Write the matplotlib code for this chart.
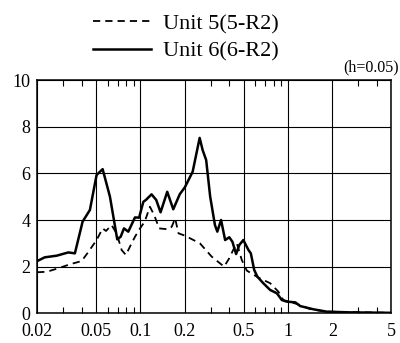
import numpy as np
import matplotlib
matplotlib.use('Agg')
import matplotlib.pyplot as plt
from matplotlib.ticker import FixedLocator, NullFormatter

plt.rcParams['font.family'] = ['Liberation Serif', 'DejaVu Serif']

# Unit 6 (6-R2), solid
period6 = [0.02, 0.0225, 0.0271, 0.0325, 0.036, 0.0406, 0.0455, 0.0505, 0.0555,
           0.0622, 0.0697, 0.0735, 0.0774, 0.0828, 0.0919, 0.098, 0.1047, 0.109,
           0.119, 0.128, 0.137, 0.152, 0.167, 0.185, 0.2, 0.226, 0.252, 0.264,
           0.279, 0.297, 0.32, 0.332, 0.352, 0.375, 0.4, 0.42, 0.445, 0.468,
           0.498, 0.54, 0.56, 0.59, 0.62, 0.68, 0.757, 0.84, 0.908, 0.98, 1.12,
           1.21, 1.49, 1.83, 2.64, 5.0]
sa6 = [2.24, 2.4, 2.47, 2.61, 2.57, 3.93, 4.43, 5.93, 6.18,
       5.0, 3.17, 3.28, 3.64, 3.5, 4.11, 4.1, 4.78, 4.86,
       5.1, 4.86, 4.33, 5.21, 4.46, 5.11, 5.4, 6.07, 7.52, 7.0,
       6.57, 5.0, 3.78, 3.5, 4.0, 3.14, 3.26, 3.07, 2.54, 2.93,
       3.14, 2.71, 2.57, 1.86, 1.57, 1.29, 1.0, 0.86, 0.57, 0.5, 0.47,
       0.31, 0.17, 0.07, 0.04, 0.02]

# Unit 5 (5-R2), dashed
period5 = [0.02, 0.0232, 0.0278, 0.0333, 0.04, 0.0437, 0.0505, 0.0555, 0.0585,
           0.0638, 0.069, 0.0747, 0.0798, 0.085, 0.0919, 0.0994, 0.107, 0.116,
           0.124, 0.134, 0.155, 0.163, 0.172, 0.181, 0.2, 0.253, 0.304, 0.369,
           0.4, 0.427, 0.45, 0.486, 0.526, 0.63, 0.757, 0.86, 0.93, 1.15, 1.41,
           1.83, 5.0]
sa5 = [1.76, 1.78, 1.93, 2.1, 2.24, 2.57, 3.14, 3.64, 3.53,
       3.78, 3.43, 2.71, 2.5, 2.86, 3.28, 3.64, 3.93, 4.57,
       4.21, 3.64, 3.6, 3.71, 4.07, 3.43, 3.33, 3.0, 2.43, 2.0,
       2.36, 2.74, 3.0, 2.29, 1.83, 1.53, 1.29, 0.93, 0.57, 0.4, 0.18,
       0.07, 0.02]

xticks = [0.02, 0.05, 0.1, 0.2, 0.5, 1, 2, 5]
xticklabels = ['0.02', '0.05', '0.1', '0.2', '0.5', '1', '2', '5']
xminor = [0.03, 0.04, 0.06, 0.07, 0.08, 0.09, 0.3, 0.4, 0.6, 0.7, 0.8, 0.9, 3, 4]
yticks = [0, 2, 4, 6, 8, 10]

fig = plt.figure(figsize=(4.0, 3.43), dpi=100)
ax = fig.add_axes([0.093, 0.0866, 0.885, 0.680])

ax.plot(period5, sa5, color='black', lw=1.3, linestyle=(0, (4.0, 2.8)),
        label='Unit 5(5-R2)')
ax.plot(period6, sa6, color='black', lw=1.8, label='Unit 6(6-R2)')

ax.set_xscale('log')
ax.set_xlim(0.02, 5)
ax.set_ylim(0, 10)
ax.set_xticks(xticks)
ax.set_xticklabels(xticklabels)
ax.xaxis.set_minor_locator(FixedLocator(xminor))
ax.xaxis.set_minor_formatter(NullFormatter())
ax.set_yticks(yticks)
ax.grid(True, which='major', color='black', lw=0.8)
ax.tick_params(which='major', length=0, labelsize=13, pad=5)
ax.tick_params(axis='x', which='major', pad=7)
ax.tick_params(which='minor', axis='x', direction='in', length=4, width=0.8,
               top=True, bottom=True)
for s in ax.spines.values():
    s.set_linewidth(1.1)

fig.legend(loc='upper left', bbox_to_anchor=(0.2325, 0.96), frameon=False,
           fontsize=16, handlelength=2.6, handletextpad=0.55, labelspacing=0.32,
           borderpad=0, borderaxespad=0)
fig.text(0.997, 0.78, '(h=0.05)', ha='right', va='bottom', fontsize=11.5)

fig.savefig('out.png', dpi=100)
